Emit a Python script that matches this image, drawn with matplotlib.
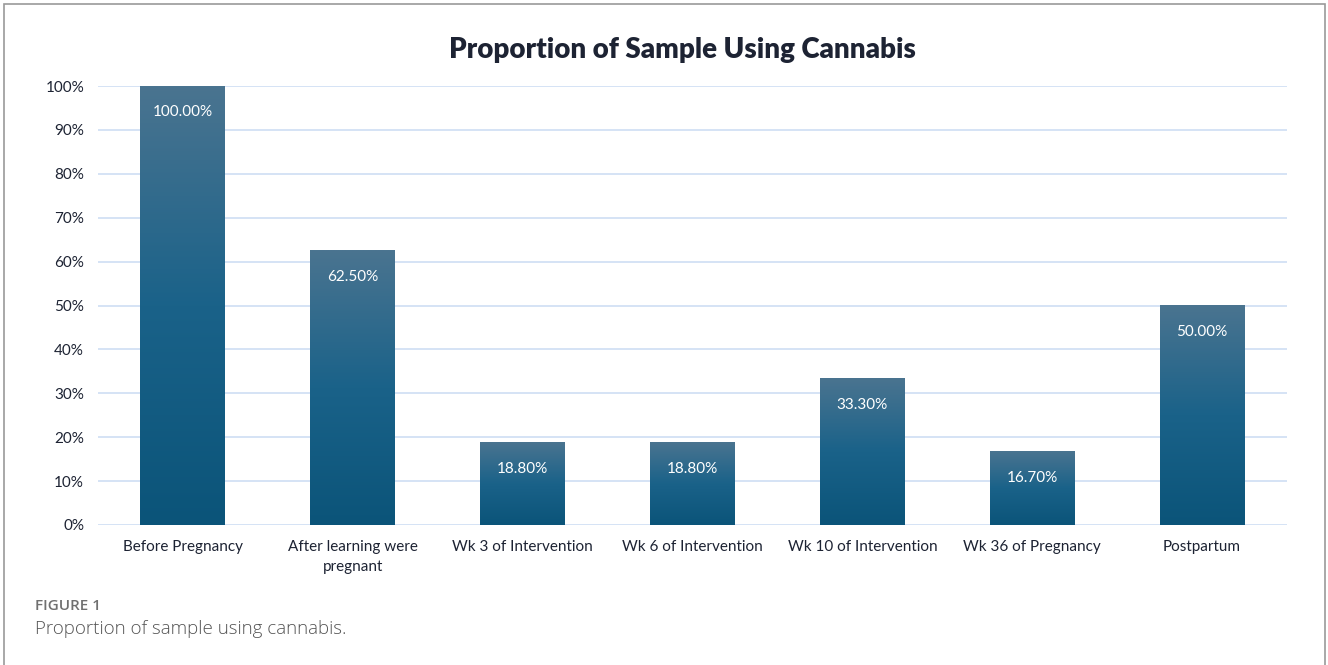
import numpy as np
import matplotlib.pyplot as plt
from matplotlib.colors import LinearSegmentedColormap
from matplotlib.patches import Rectangle

# ==================================
# Data
# ==================================
categories = ["Before Pregnancy", "After learning were\npregnant", "Wk 3 of Intervention",
              "Wk 6 of Intervention", "Wk 10 of Intervention", "Wk 36 of Pregnancy", "Postpartum"]
values = [100.0, 62.5, 18.8, 18.8, 33.3, 16.7, 50.0]
value_labels = ["100.00%", "62.50%", "18.80%", "18.80%", "33.30%", "16.70%", "50.00%"]
y_ticks = [0, 10, 20, 30, 40, 50, 60, 70, 80, 90, 100]

title = "Proportion of Sample Using Cannabis"
fig_label = "FIGURE 1"
caption = "Proportion of sample using cannabis."

# ==================================
# Style
# ==================================
plt.rcParams["font.family"] = ["Lato", "DejaVu Sans"]
text_color = "#1d2333"
grid_color = "#d2e1f4"
bar_cmap = LinearSegmentedColormap.from_list("bar", ["#0b5479", "#1a6289", "#4a7490"])

W, H = 1328, 665
fig = plt.figure(figsize=(W / 100, H / 100), dpi=100)

# outer frame
fig.patches.append(Rectangle((4 / W, -0.01), 1321 / W, (H - 4) / H + 0.01, transform=fig.transFigure,
                             fill=False, edgecolor="#9a9a9a", linewidth=1.2))

ax = fig.add_axes([98 / W, (H - 525) / H, (1287 - 98) / W, (525 - 86) / H])

x = np.arange(len(values))
bar_w = 0.5
grad = np.linspace(0, 1, 256).reshape(-1, 1)
for xi, v, lab in zip(x, values, value_labels):
    ax.imshow(grad, cmap=bar_cmap, origin="lower", aspect="auto",
              extent=[xi - bar_w / 2, xi + bar_w / 2, 0, v], zorder=2)
    ax.annotate(lab, (xi, v), xytext=(0, -19), textcoords="offset points",
                ha="center", va="center", color="white", fontsize=11)
ax.set_xlim(-0.5, len(values) - 0.5)
ax.set_ylim(0, 100)

ax.set_yticks(y_ticks)
ax.set_yticklabels([f"{t}%" for t in y_ticks], fontsize=11, color=text_color)
ax.set_xticks(x)
ax.set_xticklabels(categories, fontsize=11, color=text_color, linespacing=1.5)
ax.tick_params(length=0, pad=10)
ax.tick_params(axis="x", pad=11)
ax.grid(axis="y", color=grid_color, linewidth=1.3, zorder=0)
ax.set_axisbelow(True)
for s in ax.spines.values():
    s.set_visible(False)

fig.text(682 / W, 1 - 50 / H, title, ha="center", va="center", fontsize=20,
         fontweight="heavy", color=text_color)
fig.text(35 / W, 1 - 606 / H, fig_label, ha="left", va="center", fontsize=11,
         color="#707070", family=["Open Sans", "DejaVu Sans"], fontweight="semibold")
fig.text(35 / W, 1 - 629 / H, caption, ha="left", va="center", fontsize=13.5,
         color="#555555", family=["Open Sans", "DejaVu Sans"], fontweight="light")

fig.savefig("out.png", dpi=100)
